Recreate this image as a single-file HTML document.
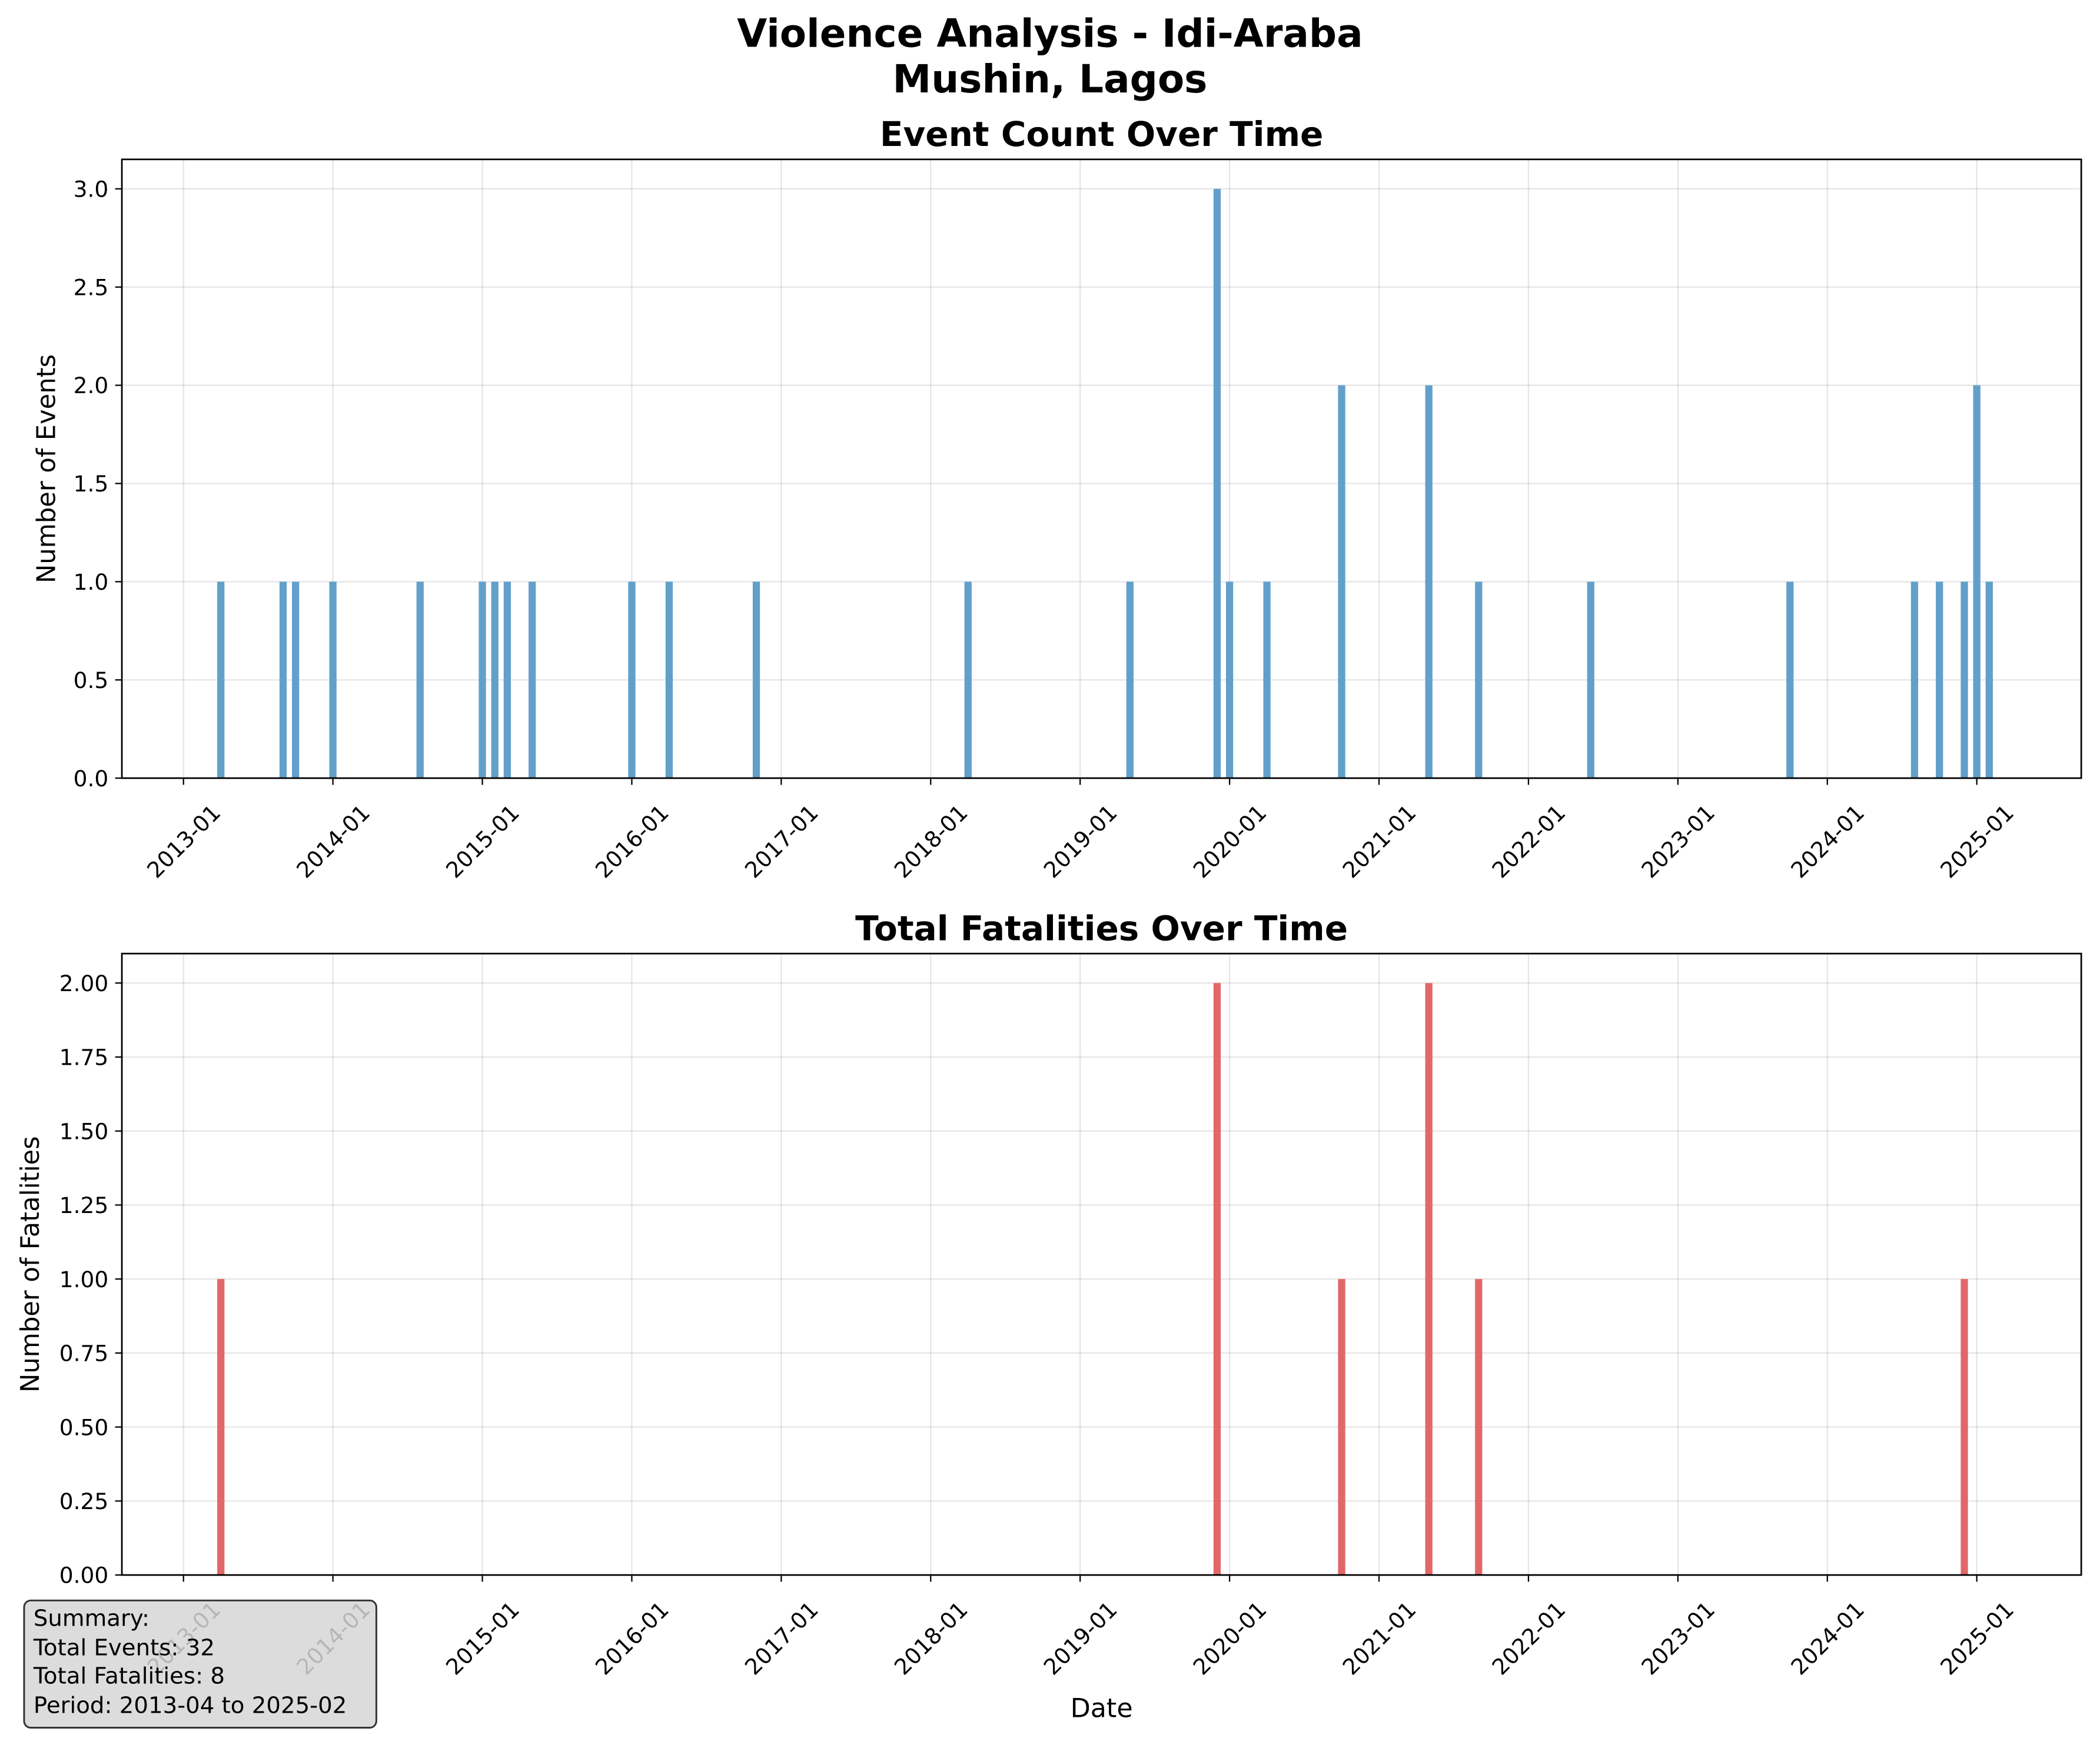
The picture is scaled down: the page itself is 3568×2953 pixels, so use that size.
<!DOCTYPE html>
<html><head><meta charset="utf-8"><style>
html,body{margin:0;padding:0;background:#fff}
svg{display:block}
text{font-family:"DejaVu Sans","Liberation Sans",sans-serif;fill:#000}
</style></head><body>
<svg id="chart" width="3568" height="2953" viewBox="0 0 1568 1297.7" preserveAspectRatio="none" xmlns="http://www.w3.org/2000/svg">
<rect width="1568" height="1298" fill="#fff"/>
<text x="784" y="35" font-size="29" font-weight="bold" text-anchor="middle">Violence Analysis - Idi-Araba</text>
<text x="784" y="69" font-size="29" font-weight="bold" text-anchor="middle">Mushin, Lagos</text>
<g id="top"></g>
<g id="bot"></g>
<g>
<rect x="18" y="1195" width="263" height="95" rx="5" fill="#d6d6d6" fill-opacity="0.85" stroke="#333" stroke-width="1.3"/>
<text x="25" y="1214" font-size="17">Summary:</text>
<text x="25" y="1236" font-size="17">Total Events: 32</text>
<text x="25" y="1257" font-size="17">Total Fatalities: 8</text>
<text x="25" y="1279" font-size="17">Period: 2013-04 to 2025-02</text>
</g>
</svg>
<script>
// months since 2013-01
const eventMonths = [3,8,9,12,19,24,25,26,28,36,39,46,63,76,83,84,87,93,100,104,113,129,139,141,143,144,145];
const eventCounts = [1,1,1,1,1,1,1,1,1,1,1,1,1,1,3,1,1,2,2,1,1,1,1,1,1,2,1];
const fatalMonths = [3,83,93,100,104,143];
const fatalCounts = [1,2,1,2,1,1];
const xTickLabels = ["2013-01","2014-01","2015-01","2016-01","2017-01","2018-01","2019-01","2020-01","2021-01","2022-01","2023-01","2024-01","2025-01"];
const topYTicks = [0,0.5,1.0,1.5,2.0,2.5,3.0];
const botYTicks = [0,0.25,0.5,0.75,1.0,1.25,1.5,1.75,2.0];

const NS="http://www.w3.org/2000/svg";
function mk(p,tag,a,txt){const e=document.createElementNS(NS,tag);for(const k in a)e.setAttribute(k,a[k]);if(txt!==undefined)e.textContent=txt;p.appendChild(e);return e;}
const L=91,R=1554;
function xs(m){return 137+m*1339/144;}

function panel(g,top,bottom,ymax,ytmax,yticks,fmt,months,vals,color,title,ylabel,xlabel,name){
  const ys=v=>bottom-(bottom-ytmax)*v/ymax;
  xTickLabels.forEach((t,i)=>{const x=xs(i*12);
    const l=mk(g,'line',{x1:x,x2:x,y1:top,y2:bottom,stroke:'#000','stroke-opacity':0.1,'stroke-width':1});
    
    
  });
  yticks.forEach(v=>{const y=ys(v);
    const l=mk(g,'line',{x1:L,x2:R,y1:y,y2:y,stroke:'#000','stroke-opacity':0.1,'stroke-width':1});
    
    
  });
  months.forEach((m,i)=>{const x=xs(m),y=ys(vals[i]);
    const b=mk(g,'rect',{x:x-2.7,y:y,width:5.4,height:bottom-y,fill:color});
    
    
  });
  const fr=mk(g,'rect',{x:L,y:top,width:R-L,height:bottom-top,fill:'none',stroke:'#000','stroke-width':1.2});
  
  
  yticks.forEach(v=>{const y=ys(v);
    mk(g,'line',{x1:L-5,x2:L,y1:y,y2:y,stroke:'#000','stroke-width':1});
    const t=mk(g,'text',{x:L-10,y:y+6,'font-size':16.5,'text-anchor':'end'},fmt(v));
    
    
  });
  xTickLabels.forEach((lab,i)=>{const x=xs(i*12);
    mk(g,'line',{x1:x,x2:x,y1:bottom,y2:bottom+5,stroke:'#000','stroke-width':1});
    const cy=bottom+47;
    const t=mk(g,'text',{x:x,y:cy+6,'font-size':16.5,'text-anchor':'middle',transform:`rotate(-45 ${x} ${cy})`},lab);
    
    
  });
  const tt=mk(g,'text',{x:(L+R)/2,y:top-10,'font-size':25.5,'font-weight':'bold','text-anchor':'middle'},title);
  
  
  const yl=mk(g,'text',{x:0,y:0,'font-size':19,'text-anchor':'middle',transform:`translate(${name==='events'?41:29} ${(top+bottom)/2}) rotate(-90)`},ylabel);
  
  
  if(xlabel){const xl=mk(g,'text',{x:(L+R)/2,y:1282,'font-size':19.5,'text-anchor':'middle'},xlabel);
    
    }
}
const gt=document.getElementById('top');


panel(gt,119,581,3,141,topYTicks,v=>v.toFixed(1),eventMonths,eventCounts,'#62a0cb','Event Count Over Time','Number of Events',null,'events');
const gb=document.getElementById('bot');


panel(gb,712,1176,2,734,botYTicks,v=>v.toFixed(2),fatalMonths,fatalCounts,'#e26768','Total Fatalities Over Time','Number of Fatalities','Date','fatalities');
</script>
</body></html>
